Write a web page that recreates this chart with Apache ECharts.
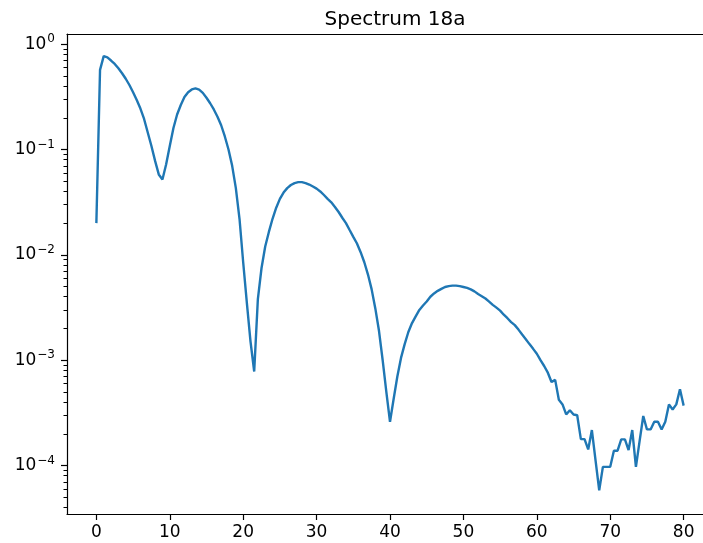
<!DOCTYPE html>
<html>
<head>
<meta charset="utf-8">
<script src="https://cdn.jsdelivr.net/npm/echarts@6/dist/echarts.min.js"></script>
<style>
  html, body { margin: 0; padding: 0; background: #fff; }
  #chart { width: 703px; height: 543px; }
</style>
</head>
<body>
<div id="chart"></div>
<script>
// sample spacing along x (the spectrum is sampled every 0.5 from 0 to 80)
var xStep = 0.5;
// spectrum values, one per sample
var spectrum = [
  0.020, 0.57, 0.77, 0.75, 0.70, 0.65, 0.59, 0.53, 0.47, 0.41,
  0.35, 0.295, 0.245, 0.195, 0.145, 0.108, 0.078, 0.058, 0.052, 0.072,
  0.108, 0.16, 0.215, 0.265, 0.315, 0.35, 0.372, 0.38, 0.37, 0.345,
  0.31, 0.275, 0.24, 0.205, 0.17, 0.133, 0.10, 0.07, 0.043, 0.022,
  0.0085, 0.0035, 0.0015, 0.00078, 0.0038, 0.0075, 0.012, 0.0165, 0.022, 0.028,
  0.034, 0.039, 0.043, 0.046, 0.048, 0.049, 0.049, 0.048, 0.0465, 0.0445,
  0.0425, 0.040, 0.037, 0.034, 0.0315, 0.0285, 0.0255, 0.0225, 0.020, 0.0172,
  0.0148, 0.0128, 0.0106, 0.0085, 0.0065, 0.0047, 0.0031, 0.0019, 0.0010, 0.0005,
  0.00026, 0.00043, 0.0007, 0.00105, 0.00142, 0.00185, 0.00225, 0.0026, 0.0030, 0.0033,
  0.0036, 0.0040, 0.0043, 0.00455, 0.00475, 0.00495, 0.00505, 0.0051, 0.0051, 0.00505,
  0.00495, 0.00485, 0.0047, 0.0045, 0.00425, 0.00405, 0.00385, 0.0036, 0.00335, 0.00315,
  0.00295, 0.0027, 0.0025, 0.0023, 0.00215, 0.00195, 0.00175, 0.00158, 0.00142, 0.00128,
  0.00115, 0.00100, 0.00088, 0.00076, 0.00062, 0.00065, 0.00042, 0.00038, 0.000305, 0.000335,
  0.000305, 0.00030, 0.000178, 0.000178, 0.000142, 0.000217, 0.000112, 0.000058, 0.000097, 0.000097,
  0.000097, 0.000138, 0.000138, 0.000177, 0.000177, 0.00014, 0.000217, 0.000097, 0.00017, 0.000295,
  0.00022, 0.00022, 0.00026, 0.00026, 0.00022, 0.00026, 0.00038, 0.00034, 0.00038, 0.00053,
  0.00037
];
var xTicks = [0, 10, 20, 30, 40, 50, 60, 70, 80];
var yTicks = [1e-4, 1e-3, 1e-2, 1e-1, 1];
var minorMultiples = [2, 3, 4, 5, 6, 7, 8, 9];
var minorDecades = [1e-5, 1e-4, 1e-3, 1e-2, 1e-1];

var X_MIN = -4, X_MAX = 84;
var Y_MIN = 3.46e-5, Y_MAX = 1.25;

var seriesData = spectrum.map(function (v, i) { return [i * xStep, v]; });
var yMinor = [];
minorDecades.forEach(function (d) {
  minorMultiples.forEach(function (m) {
    var v = m * d;
    if (v > Y_MIN && v < Y_MAX) yMinor.push(v);
  });
});

var font = 'DejaVu Sans';
var lineStyle = { color: '#000', width: 1.2 };

function supLabel(v) {
  var e = Math.round(Math.log10(v));
  var s = e < 0 ? '\u2212' + (-e) : String(e);
  return '{b|10}{s|' + s + '}';
}

var chart = echarts.init(document.getElementById('chart'), null, { renderer: 'canvas' });
var option = {
  animation: false,
  backgroundColor: '#fff',
  title: {
    text: 'Spectrum 18a',
    left: 390,
    textAlign: 'center',
    top: 5,
    textStyle: { fontFamily: font, fontSize: 20, fontWeight: 'normal', color: '#000' }
  },
  grid: {
    left: 67,
    top: 34,
    right: -10,
    bottom: 29,
    outerBoundsMode: 'none'
  },
  xAxis: [{
    type: 'value',
    min: X_MIN,
    max: X_MAX,
    axisLine: { onZero: false, lineStyle: lineStyle },
    axisTick: { length: 6, customValues: xTicks, lineStyle: lineStyle },
    axisLabel: {
      customValues: xTicks,
      margin: 10,
      fontFamily: font,
      fontSize: 17,
      color: '#000'
    },
    splitLine: { show: false }
  }, {
    type: 'value',
    position: 'top',
    min: X_MIN,
    max: X_MAX,
    axisLine: { onZero: false, lineStyle: lineStyle },
    axisTick: { show: false },
    axisLabel: { show: false },
    splitLine: { show: false }
  }],
  yAxis: [{
    type: 'log',
    logBase: 10,
    min: Y_MIN,
    max: Y_MAX,
    axisLine: { show: true, onZero: false, lineStyle: lineStyle },
    axisTick: { show: true, length: 6, customValues: yTicks, lineStyle: lineStyle },
    axisLabel: {
      customValues: yTicks,
      margin: 12,
      formatter: supLabel,
      rich: {
        b: { fontFamily: font, fontSize: 17, color: '#000' },
        s: { fontFamily: font, fontSize: 12, color: '#000', padding: [0, 0, 10, 1] }
      }
    },
    splitLine: { show: false }
  }, {
    // minor ticks of the log axis
    type: 'log',
    logBase: 10,
    position: 'left',
    offset: 0,
    min: Y_MIN,
    max: Y_MAX,
    axisLine: { show: false, onZero: false },
    axisTick: { show: true, length: 3.5, customValues: yMinor, lineStyle: { color: '#000', width: 1 } },
    axisLabel: { show: false },
    splitLine: { show: false }
  }],
  series: [{
    type: 'line',
    xAxisIndex: 0,
    yAxisIndex: 0,
    data: seriesData,
    showSymbol: false,
    smooth: false,
    lineStyle: { color: '#1f77b4', width: 2.4 },
    itemStyle: { color: '#1f77b4' }
  }]
};
chart.setOption(option);
</script>
</body>
</html>
